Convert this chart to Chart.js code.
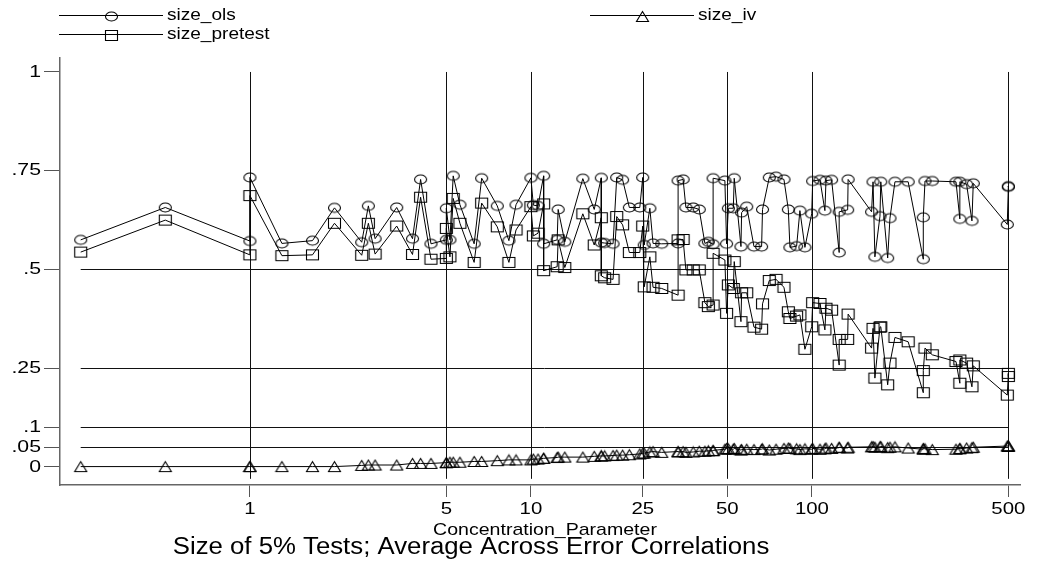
<!DOCTYPE html>
<html>
<head>
<meta charset="utf-8">
<script src="https://cdn.jsdelivr.net/npm/chart.js@4/dist/chart.umd.min.js"></script>
<style>
  html, body { margin: 0; padding: 0; background: #fff; }
</style>
</head>
<body>
<canvas id="sizeChart" width="1037" height="564"></canvas>
<script>
// values
const concParam = [0.25, 0.5, 1, 1, 1.3, 1.67, 2, 2.5, 2.64, 2.79,
    3.33, 3.79, 4.05, 4.41, 5, 5, 5.15, 5.29, 5.59, 6.28,
    6.68, 7.59, 8.35, 8.85, 10, 10.2, 10.6, 11.1, 11.1, 12.4,
    12.5, 13.2, 15.3, 16.8, 17.8, 17.8, 18.3, 19.6, 20.2, 21.2,
    22.4, 24.4, 25, 25.3, 26.5, 27.2, 29.2,
    33.4, 33.4, 34.8, 35.6, 37.8, 39.7, 41.6, 42.8, 44.5, 44.5,
    49, 49.7, 50.4, 52.5, 52.9, 55.9, 56.2, 58.6, 62.2, 66.2,
    66.7, 70.5, 74.5, 79.5, 82.4, 83.5, 88.2, 90.6, 94.4, 99.8,
    100.6, 106.8, 111.2, 112.2, 117.5, 125, 125, 134, 134.5, 163,
    165, 167.5, 174.6, 175.8, 186, 189.5, 197.4, 220, 249, 249,
    252.5, 268, 325.5, 336, 336, 355, 371, 375, 495.5, 500, 500];

const sizeOls = [.575, .657, .572, .733, .566, .573, .656, .569, .661, .578,
    .657, .578, .728, .565, .575, .655, .575, .737, .664, .565,
    .731, .661, .573, .664, .732, .663, .661, .737, .565, .575,
    .652, .570, .730, .652, .732, .568, .567, .565, .733, .727,
    .657, .657, .733, .562, .655, .566, .565,
    .566, .725, .728, .657, .657, .652, .566, .570, .564, .731,
    .725, .565, .655, .655, .731, .558, .644, .659, .558, .558,
    .652, .733, .735, .728, .652, .556, .559, .649, .556, .641,
    .724, .727, .649, .725, .727, .543, .646, .651, .728, .646,
    .722, .532, .635, .722, .529, .630, .722, .722, .526, .632,
    .724, .724, .722, .628, .722, .716, .623, .718, .614, .711, .709];

const sizePretest = [.544, .625, .537, .687, .535, .537, .617, .536, .617, .539,
    .610, .538, .683, .526, .528, .604, .532, .680, .617, .518,
    .668, .608, .518, .600, .659, .585, .592, .666, .497, .507,
    .575, .505, .641, .562, .631, .484, .479, .475, .634, .613,
    .543, .543, .610, .456, .532, .455, .452,
    .435, .575, .576, .499, .499, .499, .416, .406, .410, .541,
    .524, .389, .461, .452, .520, .368, .441, .441, .354, .349,
    .413, .472, .475, .455, .393, .376, .382, .385, .298, .355,
    .416, .414, .347, .402, .397, .258, .323, .323, .387, .301,
    .351, .225, .354, .355, .208, .263, .328, .317, .188, .244,
    .301, .284, .267, .212, .271, .263, .203, .256, .182, .237, .229];

const sizeIv = [.001, .001, .001, .001, .001, .001, .001, .004, .005, .005,
    .005, .009, .009, .009, .011, .011, .012, .012, .012, .014,
    .014, .016, .018, .018, .018, .020, .020, .022, .022, .024,
    .025, .025, .025, .027, .028, .028, .028, .029, .030, .030,
    .031, .033, .035, .035, .038, .039, .037,
    .039, .038, .039, .037, .038, .040, .040, .041, .041, .042,
    .045, .047, .046, .045, .047, .043, .044, .045, .044, .045,
    .046, .043, .045, .047, .048, .047, .046, .044, .046, .045,
    .047, .045, .046, .048, .047, .049, .050, .048, .050, .051,
    .052, .050, .051, .052, .049, .050, .051, .048, .045, .047,
    .046, .044, .045, .047, .046, .048, .049, .050, .053, .054, .052];

const xTicks = [1, 5, 10, 25, 50, 100, 500];
const yTicks = [0, .05, .1, .25, .5, .75, 1];
const yTickLabels = ['0', '.05', '.1', '.25', '.5', '.75', '1'];
const refLines = [.05, .1, .25, .5];

const FONT = '"Liberation Sans", Arial, sans-serif';

// hollow markers, a bit wider than tall like the original
function makeMarker(kind) {
    const c = document.createElement('canvas');
    c.width = 15;
    c.height = 13;
    const g = c.getContext('2d');
    g.strokeStyle = '#000';
    g.lineWidth = 1.1;
    g.beginPath();
    if (kind === 'ellipse') {
        g.ellipse(7.5, 6.5, 6, 4.5, 0, 0, Math.PI * 2);
    } else if (kind === 'square') {
        g.rect(1.5, 1.5, 12, 10);
    } else {
        g.moveTo(7.5, 1.5);
        g.lineTo(13.5, 11.5);
        g.lineTo(1.5, 11.5);
        g.closePath();
    }
    g.stroke();
    return c;
}

const olsMarker = makeMarker('ellipse');
const pretestMarker = makeMarker('square');
const ivMarker = makeMarker('triangle');

function series(label, values, marker) {
    return {
        label: label,
        data: concParam.map((x, i) => ({ x: x, y: values[i] })),
        showLine: true,
        borderColor: '#000',
        borderWidth: 1,
        pointStyle: marker,
        pointRadius: 6,
        backgroundColor: 'rgba(0,0,0,0)'
    };
}

function wideText(ctx, text, x, y, size, align, sx) {
    ctx.save();
    ctx.translate(x, y);
    ctx.scale(sx, 1);
    ctx.font = size + 'px ' + FONT;
    ctx.fillStyle = '#000';
    ctx.textAlign = align;
    ctx.textBaseline = 'middle';
    ctx.fillText(text, 0, 0);
    ctx.restore();
}

const stataLook = {
    id: 'stataLook',
    beforeDatasetsDraw(chart) {
        const ctx = chart.ctx;
        const xs = chart.scales.x, ys = chart.scales.y;
        ctx.save();
        ctx.strokeStyle = '#111';
        ctx.lineWidth = 1;
        const x0 = xs.getPixelForValue(concParam[0]);
        const x1 = xs.getPixelForValue(concParam[concParam.length - 1]);
        refLines.forEach(v => {
            const y = Math.round(ys.getPixelForValue(v)) + 0.5;
            ctx.beginPath();
            ctx.moveTo(x0, y);
            ctx.lineTo(x1, y);
            ctx.stroke();
        });
        const yTop = ys.getPixelForValue(1);
        const yBot = ys.getPixelForValue(-0.03);
        xTicks.forEach(v => {
            const x = Math.round(xs.getPixelForValue(v)) + 0.5;
            ctx.beginPath();
            ctx.moveTo(x, yTop);
            ctx.lineTo(x, yBot);
            ctx.stroke();
        });
        ctx.restore();
    },
    afterDraw(chart) {
        const ctx = chart.ctx;
        const xs = chart.scales.x, ys = chart.scales.y;
        yTicks.forEach((v, i) => {
            wideText(ctx, yTickLabels[i], 41, ys.getPixelForValue(v), 17, 'right', 1.25);
        });
        xTicks.forEach(v => {
            wideText(ctx, String(v), xs.getPixelForValue(v), 509, 17, 'center', 1.2);
        });
        wideText(ctx, 'Concentration_Parameter', 545, 530, 17, 'center', 1.15);
        wideText(ctx, 'Size of 5% Tests; Average Across Error Correlations', 471, 548, 23, 'center', 1.12);

        // legend: line with the marker in its middle, then the label
        const items = [
            { text: 'size_ols', marker: olsMarker, x: 59, y: 15 },
            { text: 'size_iv', marker: ivMarker, x: 590, y: 15 },
            { text: 'size_pretest', marker: pretestMarker, x: 59, y: 34 }
        ];
        items.forEach(it => {
            ctx.save();
            ctx.strokeStyle = '#000';
            ctx.lineWidth = 1;
            ctx.beginPath();
            ctx.moveTo(it.x, it.y + 0.5);
            ctx.lineTo(it.x + 104, it.y + 0.5);
            ctx.stroke();
            ctx.drawImage(it.marker, Math.round(it.x + 52 - it.marker.width / 2), Math.round(it.y - it.marker.height / 2) + 1);
            ctx.restore();
            wideText(ctx, it.text, it.x + 108, it.y, 17, 'left', 1.12);
        });
    }
};

const ctx = document.getElementById('sizeChart').getContext('2d');
new Chart(ctx, {
    type: 'scatter',
    data: {
        datasets: [
            series('size_ols', sizeOls, olsMarker),
            series('size_pretest', sizePretest, pretestMarker),
            series('size_iv', sizeIv, ivMarker)
        ]
    },
    options: {
        responsive: false,
        animation: false,
        layout: { padding: { left: 0, right: 17, top: 58, bottom: 0 } },
        plugins: {
            legend: { display: false },
            tooltip: { enabled: false }
        },
        scales: {
            x: {
                type: 'logarithmic',
                min: 0.211,
                max: 550,
                afterBuildTicks: scale => { scale.ticks = xTicks.map(v => ({ value: v })); },
                afterFit: scale => { scale.height = 79; },
                ticks: { display: false },
                grid: { drawOnChartArea: false, drawTicks: true, tickLength: 12, color: '#555' },
                border: { color: '#666', width: 1.5 }
            },
            y: {
                min: -0.0456,
                max: 1.0354,
                afterBuildTicks: scale => { scale.ticks = yTicks.map(v => ({ value: v })); },
                afterFit: scale => { scale.width = 60; },
                ticks: { display: false },
                grid: { drawOnChartArea: false, drawTicks: true, tickLength: 16, color: '#555' },
                border: { color: '#666', width: 1.5 }
            }
        }
    },
    plugins: [stataLook]
});
</script>
</body>
</html>
